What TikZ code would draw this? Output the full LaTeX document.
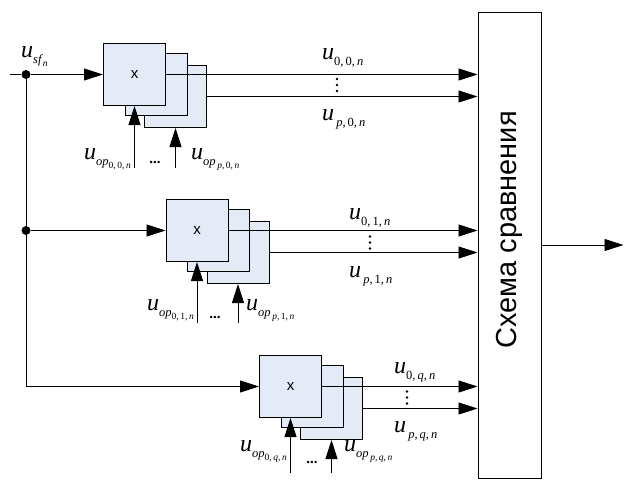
\documentclass[tikz,border=0pt]{standalone}
\usepackage{fontspec}
\newfontfamily\arialfont{Liberation Sans}
\newfontfamily\timesfont{Liberation Serif}
\usepackage{graphicx}
\usetikzlibrary{arrows.meta, positioning, calc}
\definecolor{mulfill}{RGB}{228,235,247}
\newcommand{\ulbl}[1]{{\fontsize{24}{24}\selectfont\itshape u}\raisebox{-6pt}{\fontsize{12.5}{12.5}\selectfont #1}}
\newcommand{\subsub}[1]{\raisebox{-3.5pt}{\fontsize{9.5}{9.5}\selectfont #1}}

\begin{document}
\begin{tikzpicture}[x=1pt, y=-1pt,
    mulbox/.style={rectangle, draw, line width=1pt, fill=mulfill, minimum size=62pt, inner sep=0pt, font=\arialfont\fontsize{15}{18}\selectfont},
    cmpbox/.style={rectangle, draw, line width=1pt, minimum width=63pt, minimum height=466pt, inner sep=0pt},
    junction/.style={circle, fill, minimum size=9pt, inner sep=0pt},
    lbl/.style={inner sep=0pt, font=\timesfont\fontsize{15}{18}\selectfont},
    wire/.style={line width=0.9pt},
    arrow/.style={-{Triangle[length=19pt, width=12pt]}, line width=0.9pt}
]
\useasboundingbox (0,0) rectangle (624,482);

% Multiplier stacks
\coordinate (c1) at (134.5,74.5);
\coordinate (c2) at (197,230.5);
\coordinate (c3) at (290.5,386.5);

\node[mulbox] (m1c) at ($(c1)+(41,22)$) {};
\node[mulbox] (m1b) at ($(c1)+(21.5,9.5)$) {};
\node[mulbox] (m1a) at (c1) {x};

\node[mulbox] (m2c) at ($(c2)+(41,22)$) {};
\node[mulbox] (m2b) at ($(c2)+(21.5,9.5)$) {};
\node[mulbox] (m2a) at (c2) {x};

\node[mulbox] (m3c) at ($(c3)+(41,22)$) {};
\node[mulbox] (m3b) at ($(c3)+(21.5,9.5)$) {};
\node[mulbox] (m3a) at (c3) {x};

% Comparator
\node[cmpbox] (cmp) at (509.5,245) {};
\node[rotate=90, inner sep=0pt, font=\arialfont\fontsize{29}{34}\selectfont] (cmptext) at ($(cmp.center)+(0,-15)$) {Схема сравнения};

% Input and branches
\coordinate (in) at (10,74.5);
\node[junction] (j1) at (26,74.5) {};
\node[junction] (j2) at (26,230.5) {};
\node[lbl, anchor=base west] (usf) at (21,57) {\ulbl{\textit{sf}\subsub{\textit{n}}}};
\draw[wire] (in) -- (j1);
\draw[wire] (j1) -- (j2);
\draw[arrow] (j1) -- (m1a.west);
\draw[arrow] (j2) -- (m2a.west);
\draw[arrow] (j2) |- (m3a.west);

% Outputs to comparator
\draw[arrow] (m1a.east) -- (m1a.east -| cmp.west);
\draw[arrow] (m1c.east) -- (m1c.east -| cmp.west);
\draw[arrow] (m2a.east) -- (m2a.east -| cmp.west);
\draw[arrow] (m2c.east) -- (m2c.east -| cmp.west);
\draw[arrow] (m3a.east) -- (m3a.east -| cmp.west);
\draw[arrow] (m3c.east) -- (m3c.east -| cmp.west);
\coordinate (out) at (623.5,245);
\draw[arrow] (cmp.east) -- (out);

\node[lbl, anchor=base west] (u00) at (322,59.5) {\ulbl{0,\,0,\,\textit{n}}};
\node[lbl, anchor=base west] (up0) at (322,120) {\ulbl{\,\textit{p},\,0,\,\textit{n}}};
\node[lbl, anchor=base west] (u01) at (349,219) {\ulbl{0,\,1,\,\textit{n}}};
\node[lbl, anchor=base west] (up1) at (349,277) {\ulbl{\,\textit{p},\,1,\,\textit{n}}};
\node[lbl, anchor=base west] (u0q) at (394,373) {\ulbl{0,\,\textit{q},\,\textit{n}}};
\node[lbl, anchor=base west] (upq) at (394,432) {\ulbl{\,\textit{p},\,\textit{q},\,\textit{n}}};
% vertical dots between outputs
\foreach \dx/\dy in {337/85, 370/242.5, 407/397.5}
  \foreach \k in {-6,0,6}
    \fill (\dx,\dy+\k) circle (1.3pt);

% Reference inputs
\coordinate (op1a) at ($(m1a.south)+(0,62)$);
\coordinate (op1c) at (m1c.south |- op1a);
\draw[arrow] (op1a) -- (m1a.south);
\draw[arrow] (op1c) -- (m1c.south);
\node[lbl, anchor=base east] (uop10) at (131,159) {\ulbl{\textit{op}\subsub{0,\,0,\,\textit{n}}}};
\node[lbl, anchor=base west] (uop1p) at (191,159) {\ulbl{\textit{op}\subsub{\,\textit{p},\,0,\,\textit{n}}}};
\node[lbl, anchor=base] (e1) at (155,163) {\textbf{...}};

\coordinate (op2a) at ($(m2a.south)+(0,61)$);
\coordinate (op2c) at (m2c.south |- op2a);
\draw[arrow] (op2a) -- (m2a.south);
\draw[arrow] (op2c) -- (m2c.south);
\node[lbl, anchor=base east] (uop20) at (194,310) {\ulbl{\textit{op}\subsub{0,\,1,\,\textit{n}}}};
\node[lbl, anchor=base west] (uop2p) at (246,310) {\ulbl{\textit{op}\subsub{\,\textit{p},\,1,\,\textit{n}}}};
\node[lbl, anchor=base] (e2) at (215,318) {\textbf{...}};

\coordinate (op3a) at ($(m3a.south)+(0,55)$);
\coordinate (op3c) at (m3c.south |- op3a);
\draw[arrow] (op3a) -- (m3a.south);
\draw[arrow] (op3c) -- (m3c.south);
\node[lbl, anchor=base east] (uop30) at (287,451) {\ulbl{\textit{op}\subsub{0,\,\textit{q},\,\textit{n}}}};
\node[lbl, anchor=base west] (uop3p) at (344,451) {\ulbl{\textit{op}\subsub{\,\textit{p},\,\textit{q},\,\textit{n}}}};
\node[lbl, anchor=base] (e3) at (312,463) {\textbf{...}};

\end{tikzpicture}
\end{document}
